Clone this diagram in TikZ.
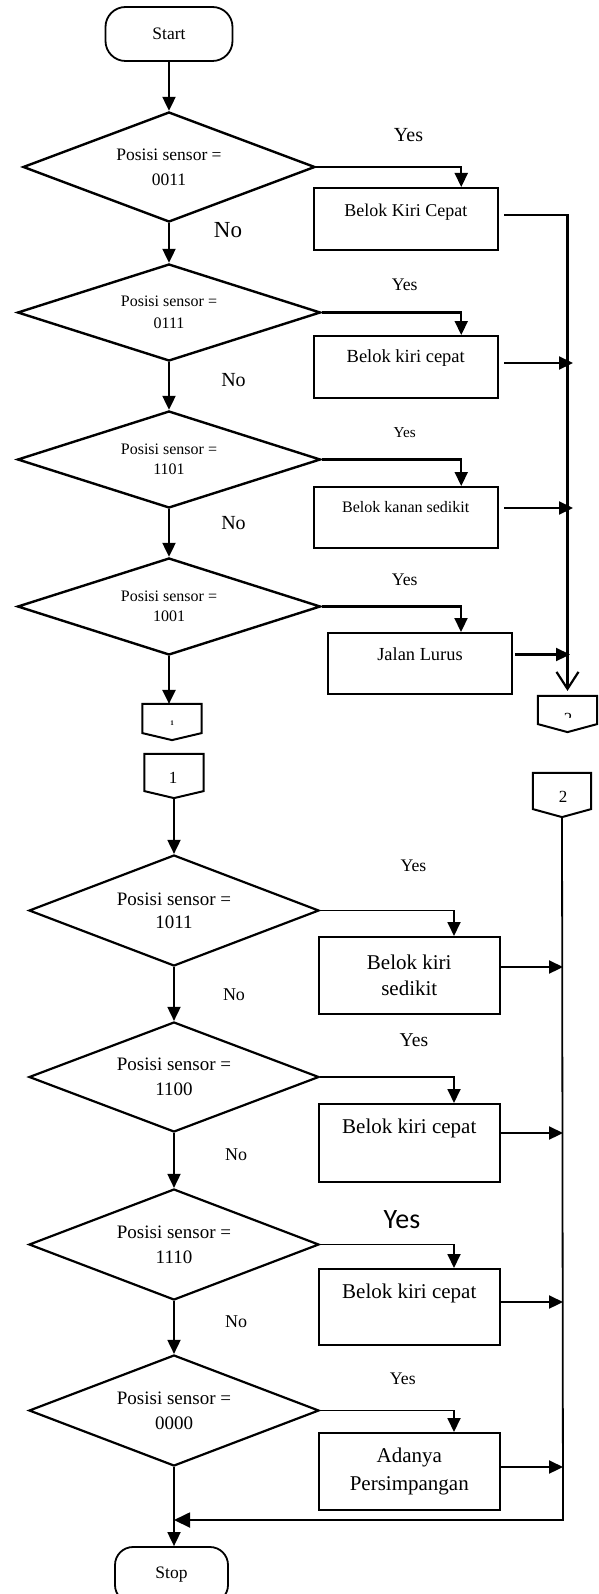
\documentclass[tikz,border=0pt]{standalone}
\usepackage{fontspec}
\setmainfont{Liberation Serif}
\newfontfamily\calibrifont{Carlito}
\usetikzlibrary{arrows.meta,shapes.geometric,calc}
\newcommand\fsz[2]{\fontsize{#1}{#2}\selectfont}
\begin{document}
\begin{tikzpicture}[x=1pt,y=-1pt,
  line width=2.2pt,
  dia/.style={draw, shape=diamond, aspect=2.65, inner sep=0pt, align=center, line width=2.4pt},
  tdia/.style={dia, minimum width=303pt, minimum height=97pt},
  bdia/.style={dia, minimum width=290pt, minimum height=111pt, line width=2.2pt},
  box/.style={draw, rectangle, inner sep=0pt, line width=2pt},
  term/.style={draw, rounded corners=20pt, inner sep=0pt, line width=1.8pt},
  flow/.style={-{Triangle[length=14pt,width=13pt]}},
  thin/.style={line width=1.8pt},
  lbl/.style={inner sep=0pt, align=center},
  conn/.style={inner sep=0pt, minimum width=57pt},
  ]
\path[use as bounding box] (0,0) rectangle (598,1594);
\clip (0,0) rectangle (598,1594);

% ---------- top part ----------
\node[term, minimum width=127pt, minimum height=54pt, font=\fsz{17.5}{20}] (start) at (169,34) {Start};

\node[dia, minimum width=292pt, minimum height=110pt, font=\fsz{17.5}{25}] (d1) at (169,167) {Posisi sensor =\\0011};
\node[tdia, font=\fsz{16}{22}] (d2) at (169,312.5) {Posisi sensor =\\0111};
\node[tdia, font=\fsz{16}{20}] (d3) at (169,459.5) {Posisi sensor =\\1101};
\node[tdia, font=\fsz{16}{20}] (d4) at (169,606.5) {Posisi sensor =\\1001};

\node[box, minimum width=184.5pt, minimum height=62pt] (b1) at (405.75,219) {};
\node[box, minimum width=184.5pt, minimum height=62pt] (b2) at (405.75,367) {};
\node[box, minimum width=184.5pt, minimum height=61pt] (b3) at (405.75,517.5) {};
\node[box, minimum width=184pt, minimum height=61pt] (b4) at (420,663.5) {};

\node[lbl, font=\fsz{18}{20}] (tb1) at (405.75,212) {Belok Kiri Cepat};
\node[lbl, font=\fsz{18.5}{20}] (tb2) at (405.75,358) {Belok kiri cepat};
\node[lbl, font=\fsz{16}{18}] (tb3) at (405.75,507) {Belok kanan sedikit};
\node[lbl, font=\fsz{18.4}{20}] (tb4) at (420,654) {Jalan Lurus};

\node[lbl, font=\fsz{20}{22}] (y1) at (408.5,135) {Yes};
\node[lbl, font=\fsz{17.7}{20}] (y2) at (404.7,285) {Yes};
\node[lbl, font=\fsz{15.2}{18}] (y3) at (404.7,433) {Yes};
\node[lbl, font=\fsz{17.7}{20}] (y4) at (404.7,580) {Yes};
\node[lbl, font=\fsz{23}{25}] (n1) at (228,230) {No};
\node[lbl, font=\fsz{20}{22}] (n2) at (233.5,380) {No};
\node[lbl, font=\fsz{20}{22}] (n3) at (233.5,523) {No};

% off-page connectors (top)
\node[conn, minimum height=27pt] (c1a) at (172,718.5) {};
\draw[line width=2pt] (c1a.north west) -- (c1a.north east) -- (c1a.south east) -- ([yshift=-7pt]c1a.south) -- (c1a.south west) -- cycle;
\node[lbl, font=\fsz{7}{8}\bfseries] (t1a) at (172,723) {1};

\node[conn, minimum height=26pt] (c2a) at (567.5,710) {};
\draw[line width=2pt] (c2a.north west) -- (c2a.north east) -- (c2a.south east) -- ([yshift=-8pt]c2a.south) -- (c2a.south west) -- cycle;
\begin{scope}
\clip (540,700) rectangle (595,717.5);
\node[lbl, font=\fsz{17}{17}] (t2a) at (568,719) {2};
\end{scope}

% main flow top
\draw[flow] (start.south) -- (d1.north);
\draw[flow] (d1.south) -- (d2.north);
\draw[flow] (d2.south) -- (d3.north);
\draw[flow] (d3.south) -- (d4.north);
\draw[flow] (d4.south) -- (d4.south |- c1a.north);

% yes branches top
\draw[flow] (d1.east) -| ([xshift=55.5pt]b1.north);
\draw[flow] (d2.east) -| ([xshift=55.5pt]b2.north);
\draw[flow] (d3.east) -| ([xshift=55.5pt]b3.north);
\draw[flow] (d4.east) -| ([xshift=41pt]b4.north);

% right collector top
\coordinate (rl) at (568,0);
\draw[-{Straight Barb[length=17pt,width=22pt]}] ([xshift=5pt,yshift=4pt]b1.east) -| ([yshift=5pt]c2a.north);
\draw[flow] ([xshift=5pt,yshift=4pt]b2.east) -- ([xshift=5pt,yshift=4pt]b2.east -| rl);
\draw[flow] ([xshift=5pt,yshift=9.5pt]b3.east) -- ([xshift=5pt,yshift=9.5pt]b3.east -| rl);
\draw[flow] ([xshift=2pt,yshift=9pt]b4.east) -- ([xshift=2pt,yshift=9pt]b4.east -| rl);

% ---------- bottom part ----------
\node[conn, minimum height=35pt] (c1b) at (174,772.5) {};
\draw[line width=2pt] (c1b.north west) -- (c1b.north east) -- (c1b.south east) -- ([yshift=-7pt]c1b.south) -- (c1b.south west) -- cycle;
\node[lbl, font=\fsz{17}{18}] (t1b) at (173,778) {1};

\node[conn, minimum height=34pt, minimum width=56pt] (c2b) at (562,791) {};
\draw[line width=2pt] (c2b.north west) -- (c2b.north east) -- (c2b.south east) -- ([yshift=-8pt]c2b.south) -- (c2b.south west) -- cycle;
\node[lbl, font=\fsz{17}{18}] (t2b) at (563,797) {2};

\node[bdia, font=\fsz{19}{23}] (d5) at (174,910.5) {Posisi sensor =\\1011};
\node[bdia, minimum height=110pt, font=\fsz{19}{25}] (d6) at (174,1077) {Posisi sensor =\\1100};
\node[bdia, font=\fsz{19}{25}] (d7) at (174,1244.5) {Posisi sensor =\\1110};
\node[bdia, font=\fsz{19}{25}] (d8) at (174,1410.5) {Posisi sensor =\\0000};

\node[box, minimum width=181.5pt, minimum height=77pt] (b5) at (409.25,975.5) {};
\node[box, minimum width=181.5pt, minimum height=78pt] (b6) at (409.25,1143) {};
\node[box, minimum width=181.5pt, minimum height=76pt] (b7) at (409.25,1307) {};
\node[box, minimum width=181.5pt, minimum height=77pt] (b8) at (409.25,1471.5) {};

\node[lbl, font=\fsz{21}{26}] (tb5) at (409.25,975) {Belok kiri\\sedikit};
\node[lbl, font=\fsz{21}{24}] (tb6) at (409.25,1128) {Belok kiri cepat};
\node[lbl, font=\fsz{21}{24}] (tb7) at (409.25,1293) {Belok kiri cepat};
\node[lbl, font=\fsz{21}{28}] (tb8) at (409.25,1471) {Adanya\\Persimpangan};

\node[lbl, font=\fsz{17.7}{20}] (y5) at (413.4,866) {Yes};
\node[lbl, font=\fsz{19.6}{22}] (y6) at (414,1040) {Yes};
\node[lbl, font=\calibrifont\fsz{28}{30}] (y7) at (402,1220) {Yes};
\node[lbl, font=\fsz{17.7}{20}] (y8) at (402.8,1379) {Yes};
\node[lbl, font=\fsz{18}{20}] (n5) at (234,995) {No};
\node[lbl, font=\fsz{18}{20}] (n6) at (236,1155) {No};
\node[lbl, font=\fsz{18}{20}] (n7) at (236,1322) {No};

\node[term, rounded corners=18pt, minimum width=113pt, minimum height=56pt, font=\fsz{17.5}{20}] (stop) at (171.5,1575) {Stop};

% main flow bottom
\draw[flow, thin] ([yshift=-7pt]c1b.south) -- (d5.north);
\draw[flow, thin] (d5.south) -- (d6.north);
\draw[flow, thin] (d6.south) -- (d7.north);
\draw[flow, thin] (d7.south) -- (d8.north);
\draw[flow, thin] (d8.south) -- (d8.south |- stop.north);

% yes branches bottom
\draw[flow, thin] (d5.east) -| ([xshift=44.75pt]b5.north);
\draw[flow, thin] (d6.east) -| ([xshift=44.75pt]b6.north);
\draw[flow, thin] (d7.east) -| ([xshift=44.75pt]b7.north);
\draw[flow, thin] (d8.east) -| ([xshift=44.75pt]b8.north);

% right collector bottom
\coordinate (rl2) at (563,0);
\coordinate (cor) at (563,1520);
\draw[thin, -{Triangle[length=16pt,width=15pt]}] ([yshift=-8pt]c2b.south) -- (cor) -- (cor -| d8.south);
\draw[flow] ([yshift=8.5pt]b5.east) -- ([yshift=8.5pt]b5.east -| rl2);
\draw[flow] ([yshift=10pt]b6.east) -- ([yshift=10pt]b6.east -| rl2);
\draw[flow] ([yshift=5pt]b7.east) -- ([yshift=5pt]b7.east -| rl2);
\draw[flow] ([yshift=4.5pt]b8.east) -- ([yshift=4.5pt]b8.east -| rl2);
\end{tikzpicture}
\end{document}
